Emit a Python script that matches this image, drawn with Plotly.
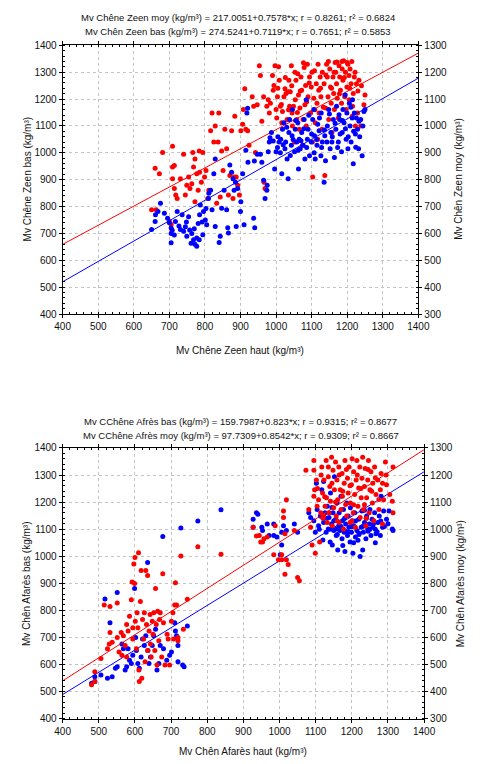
import plotly.graph_objects as go

# ---------------- DATA ----------------
# Top chart: Chêne Zeen
zeen_blue_x = [650,660,661,668,675,686,695,700,705,705,708,714,705,717,722,727,731,736,740,745,748,749,754,757,761,763,768,770,772,777,777,781,784,785,787,792,794,796,801,803,805,810,811,816,825,829,820,829,840,843,847,854,861,864,866,870,875,879,882,886,888,892,900,901,906,910,915,918,920,921,937,940,939,947,956,960,965,969,974,975,978,981,983,987,992,996,1000,1004,1009,1013,1016,1018,1022,1025,1027,1031,1034,1036,1038,1043,1045,1046,1052,1054,1058,1061,1063,1065,1068,1072,1076,1079,1081,1085,1088,1090,1094,1099,1103,1106,1108,1110,1115,1117,1121,1126,1127,1130,1135,1137,1139,1144,1148,1152,1154,1157,1161,1164,1168,1170,1175,1177,1179,1184,1186,1188,1191,1194,1197,1199,1202,1206,1208,1211,1214,1215,1217,1220,1223,1224,1229,1232,1233,1238,1242,1247,1250,
               1005,1012,1020,1030,1040,1048,1055,1062,1070,1078,1086,1092,1100,1107,1114,1122,1128,1136,1143,1150,1158,1166,1173,1180,1187,1195,1203,1210,1218,1226,1235,1244]
zeen_blue_y = [715,745,770,782,812,775,757,740,720,700,712,694,665,745,782,728,715,770,708,725,743,690,762,713,664,700,677,718,660,683,652,737,677,770,806,743,695,782,750,793,732,830,850,861,922,977,788,726,666,690,794,861,788,721,702,955,928,904,861,891,726,867,782,818,922,732,1010,1148,1166,965,757,721,970,995,995,965,898,830,861,879,1004,1040,1056,1076,1044,940,1004,1020,1040,1051,922,1088,1112,1015,1040,977,904,1076,1124,1028,1064,1161,1004,1088,1040,1112,940,1051,1015,1076,1028,1124,977,1198,1051,1088,989,1040,1124,1161,1064,977,1028,1106,1082,989,1148,1040,891,1064,971,1100,1161,1015,1076,1040,1124,983,1088,1173,1040,1142,1124,1004,1076,1161,1112,1215,1051,1148,1015,1185,1100,1040,1130,1198,959,1148,1070,1021,1088,1015,1118,1124,989,1154,1161,
               1060,1000,1030,1095,990,1050,1120,1010,1045,1090,1020,1140,1070,1000,1050,1130,1020,1085,1040,1145,1060,1110,1020,1070,1120,1090,1060,1170,1080,1130,1060,1100]
zeen_red_x = [650,660,663,672,681,709,709,714,709,714,718,700,705,722,731,740,745,749,754,758,763,766,768,772,772,777,781,784,785,790,794,799,803,808,811,816,820,825,829,833,837,839,843,847,851,856,861,866,870,875,879,882,884,888,892,897,901,906,908,912,915,920,924,933,937,942,947,953,956,960,965,966,969,974,978,981,984,990,992,994,997,1000,1002,1004,1007,1009,1012,1016,1018,1022,1025,1028,1031,1034,1036,1038,1040,1043,1045,1046,1049,1052,1054,1056,1058,1061,1063,1065,1067,1070,1072,1074,1076,1079,1081,1083,1085,1088,1090,1094,1097,1099,1102,1103,1106,1108,1110,1113,1115,1117,1120,1121,1124,1126,1129,1130,1135,1137,1139,1142,1144,1146,1148,1151,1153,1155,1157,1160,1162,1164,1166,1168,1170,1172,1175,1177,1179,1181,1184,1186,1188,1190,1193,1195,1197,1199,1202,1205,1206,1208,1211,1214,1215,1217,1220,1223,1226,1229,1233,1238,1247,1250,
              1005,1015,1026,1035,1044,1053,1060,1068,1077,1086,1093,1101,1109,1118,1125,1133,1140,1147,1156,1163,1171,1178,1185,1192,1200,1207,1213,1222,1230,1240]
zeen_red_y = [688,843,688,822,901,925,847,853,804,767,743,645,633,730,804,895,743,779,810,767,785,901,847,877,718,822,761,907,828,791,901,810,834,730,761,982,1048,940,1000,712,940,1048,736,907,834,988,915,743,816,982,730,810,1036,810,779,743,982,1006,1061,1139,988,982,928,1109,1073,901,1079,1224,1188,1018,1109,791,767,1073,1098,1048,1085,1188,1133,1151,1224,1061,1030,1109,1220,1170,1073,1012,1054,1109,1139,1121,1024,1127,1170,1073,1127,1224,1048,1000,1073,940,1098,1170,1024,1194,1115,988,1067,1182,1133,928,1024,1218,1079,1151,1000,1230,1109,1182,1048,1145,940,810,1103,1206,1012,1157,1085,951,1133,1048,1182,1109,988,1200,1157,816,1067,1230,1182,1109,1024,1212,1145,1085,976,1182,1121,1061,1236,1200,1157,1103,1030,1224,1182,1133,1085,1212,1170,1243,1109,1200,1061,1145,1230,1188,1098,1212,1157,1036,1073,1121,1182,1000,1157,1048,1170,1000,1079,1115,
              1140,1080,1180,1060,1150,1200,1050,1130,1235,1090,1160,1200,1060,1230,1140,1070,1190,1240,1140,1200,1238,1120,1240,1180,1236,1140,1240,1200,1130,1150]

# Bottom chart: Chêne Afarès
afa_blue_x = [480,489,489,506,524,537,546,551,517,531,551,564,568,573,577,581,585,590,594,599,602,604,608,612,617,621,626,630,635,636,639,643,648,652,657,661,666,670,677,679,688,696,701,710,712,715,719,719,727,732,736,745,774,838,
              927,936,940,927,951,953,966,971,984,984,993,1006,1011,1006,1002,1019,1041,1050,1081,1086,1095,1099,1102,1104,1108,1113,1117,1122,1122,1126,1129,1132,1135,1137,1140,1141,1144,1146,1148,1150,1152,1155,1157,1159,1161,1164,1165,1167,1170,1173,1174,1177,1179,1181,1183,1186,1188,1190,1192,1195,1196,1199,1201,1203,1205,1208,1210,1214,1217,1219,1223,1226,1228,1230,1232,1235,1239,1241,1244,1248,1250,1253,1256,1258,1263,1267,1272,1276,1279,1281,1285,1288,1296,1303,1312,1314,1157,1180,1200,1220,1245,1265,
              1110,1120,1130,1140,1150,1160,1170,1180,1190,1200,1210,1220,1230,1240,1250,1260,1270,1280,1290,1300,1145,1175,1205,1235,1265]
afa_blue_y = [531,555,537,561,549,555,586,592,842,754,866,676,658,580,592,658,616,604,634,881,700,652,604,586,628,694,670,706,977,652,604,628,670,706,730,580,604,670,1073,658,616,634,646,754,724,706,670,610,1104,598,592,742,1130,1172,
              1137,1161,1155,1107,1107,1095,1119,1077,1119,1077,1071,1089,1113,1041,1005,1095,1119,1089,1161,1143,1131,1089,1270,1173,1113,1149,1246,1276,1125,1161,1089,1185,1101,1143,1053,1234,1119,1041,1161,1095,1294,1137,1077,1197,1023,1113,1161,1095,1222,1065,1131,1173,1089,1017,1119,1197,1077,1149,1107,1053,1179,1089,1131,1011,1113,1161,1071,1095,1059,1137,999,1107,1167,1023,1089,1125,1065,1149,1101,1119,1173,1077,1137,1107,1161,1083,1125,1149,1077,1222,1107,1167,1137,1167,1101,1095,1101,1095,1110,1085,1092,1100,
              1100,1060,1140,1100,1130,1080,1110,1140,1090,1110,1130,1080,1110,1140,1100,1120,1090,1130,1110,1120,1180,1040,1050,1170,1050]
afa_red_x = [480,489,489,506,515,524,529,531,531,537,551,551,556,562,564,568,573,577,577,581,585,590,592,594,594,597,599,600,601,604,606,608,610,611,612,615,617,619,621,624,626,628,630,632,635,635,639,642,643,645,648,650,652,655,657,659,661,663,666,668,670,674,677,679,683,689,692,696,701,705,707,710,712,715,719,719,727,734,745,774,838,
             927,936,944,948,953,957,966,988,984,997,1006,1011,1011,1015,1015,1019,1019,1024,1006,1041,1050,1055,1073,1081,1086,1090,1095,1095,1095,1097,1099,1102,1104,1108,1111,1114,1117,1119,1122,1123,1126,1129,1130,1132,1135,1137,1139,1141,1144,1146,1148,1150,1152,1155,1157,1159,1161,1164,1165,1168,1170,1173,1174,1177,1179,1181,1183,1186,1188,1190,1192,1195,1196,1199,1201,1204,1205,1208,1210,1212,1214,1217,1219,1222,1223,1226,1228,1230,1232,1235,1237,1239,1241,1244,1246,1248,1250,1253,1257,1258,1261,1263,1267,1272,1275,1279,1281,1285,1288,1293,1296,1305,1312,1314,1314,
             1105,1115,1125,1135,1145,1155,1165,1175,1185,1195,1205,1215,1225,1235,1245,1255,1265,1275,1285,1295,1120,1160,1200,1240]
afa_red_y = [425,473,437,522,720,558,576,714,618,582,727,600,546,618,534,606,570,648,528,624,678,739,805,636,594,871,799,895,660,558,691,636,913,480,437,733,847,449,666,594,691,510,847,648,829,552,624,685,576,528,660,612,691,552,781,648,498,697,588,666,691,528,835,654,498,612,594,498,660,691,594,720,802,720,600,588,901,630,741,935,907,
             1007,975,977,953,953,965,971,1013,905,887,887,1067,1043,983,833,1109,887,869,905,995,821,809,1218,1073,1007,941,1254,1218,1122,1146,911,1182,1085,1109,953,1061,1230,1134,1049,1182,1085,1254,1116,1025,1194,1061,1158,1103,1266,1013,1218,1079,1146,1248,1049,1182,1109,1230,1025,1146,1073,1206,1122,1001,1170,1254,1091,1049,1188,1134,1230,1025,1097,1164,1260,1061,1212,1128,1007,1182,1254,1085,1152,1230,1043,1116,1188,1266,1073,1158,1224,1013,1116,1182,1254,1061,1146,1212,1097,1170,1031,1230,1128,1182,1073,1146,1206,1019,1109,1248,1164,1128,1103,1061,1230,
             1150,1200,1120,1230,1170,1100,1200,1140,1220,1160,1090,1200,1150,1090,1220,1140,1190,1110,1170,1200,1040,1030,1030,1040]

# Regression coefficients (intercept, slope) read from the titles
zeen_blue_fit = [217.0051, 0.7578]
zeen_red_fit = [274.5241, 0.7119]
afa_blue_fit = [159.7987, 0.823]
afa_red_fit = [97.7309, 0.8542]
x_range = [400, 1400]

titles_top = ["Mv Chêne Zeen moy (kg/m³) = 217.0051+0.7578*x; r = 0.8261; r² = 0.6824",
              "Mv Chên Zeen bas (kg/m³) = 274.5241+0.7119*x; r = 0.7651; r² = 0.5853"]
titles_bot = ["Mv CChêne Afrès bas (kg/m³) = 159.7987+0.823*x; r = 0.9315; r² = 0.8677",
              "Mv CChêne Afrès moy (kg/m³) = 97.7309+0.8542*x; r = 0.9309; r² = 0.8667"]

BLUE = "#0000ff"
RED = "#ff0000"
FONT = "Liberation Sans, Arial, sans-serif"

def fit_line(c):
    return [c[0] + c[1] * x for x in x_range]

fig = go.Figure()
# Top chart: red on base axis (y, right), blue on overlay (y2, left)
fig.add_trace(go.Scatter(x=zeen_red_x, y=zeen_red_y, mode="markers", xaxis="x", yaxis="y",
                         marker=dict(color=RED, size=5), showlegend=False))
fig.add_trace(go.Scatter(x=x_range, y=fit_line(zeen_red_fit), mode="lines", xaxis="x", yaxis="y",
                         line=dict(color=RED, width=1), showlegend=False))
fig.add_trace(go.Scatter(x=zeen_blue_x, y=zeen_blue_y, mode="markers", xaxis="x", yaxis="y2",
                         marker=dict(color=BLUE, size=5), showlegend=False))
fig.add_trace(go.Scatter(x=x_range, y=fit_line(zeen_blue_fit), mode="lines", xaxis="x", yaxis="y2",
                         line=dict(color=BLUE, width=1), showlegend=False))
# Bottom chart: blue on base axis (y3, left), red on overlay (y4, right)
fig.add_trace(go.Scatter(x=afa_blue_x, y=afa_blue_y, mode="markers", xaxis="x2", yaxis="y3",
                         marker=dict(color=BLUE, size=5), showlegend=False))
fig.add_trace(go.Scatter(x=x_range, y=fit_line(afa_blue_fit), mode="lines", xaxis="x2", yaxis="y3",
                         line=dict(color=BLUE, width=1), showlegend=False))
fig.add_trace(go.Scatter(x=afa_red_x, y=afa_red_y, mode="markers", xaxis="x2", yaxis="y4",
                         marker=dict(color=RED, size=5), showlegend=False))
fig.add_trace(go.Scatter(x=x_range, y=fit_line(afa_red_fit), mode="lines", xaxis="x2", yaxis="y4",
                         line=dict(color=RED, width=1), showlegend=False))

W, H = 485, 764
def px(xp): return xp / W
def py(yp): return 1 - yp / H

tickfont = dict(family=FONT, size=10, color="#111111")
def axis(**kw):
    d = dict(showline=True, linecolor="black", linewidth=1, ticks="outside", ticklen=3,
             tickcolor="black", tickfont=tickfont, zeroline=False, dtick=100,
             minor=dict(ticks="inside", ticklen=2, dtick=20, tickcolor="black", showgrid=False),
             showgrid=True, gridcolor="#c4c4c4", griddash="dot", gridwidth=1, fixedrange=True)
    d.update(kw)
    return d

top_x = [px(57), px(428)]
top_y = [py(313), py(40)]
bot_x = [px(57), px(434)]
bot_y = [py(724), py(449)]

fig.update_layout(
    width=W, height=H, margin=dict(l=0, r=0, t=0, b=0),
    paper_bgcolor="white", plot_bgcolor="white",
    font=dict(family=FONT, size=10, color="#111111"),
    xaxis=axis(domain=top_x, range=[400, 1400], anchor="y", mirror="ticks"),
    yaxis=axis(domain=top_y, range=[300, 1300], anchor="x", side="right", showgrid=False),
    yaxis2=axis(range=[400, 1400], overlaying="y", anchor="x", side="left"),
    xaxis2=axis(domain=bot_x, range=[400, 1400], anchor="y3", mirror="ticks"),
    yaxis3=axis(domain=bot_y, range=[400, 1400], anchor="x2", side="left"),
    yaxis4=axis(range=[300, 1300], overlaying="y3", anchor="x2", side="right", showgrid=False),
)

ann = []
def text(t, x, y, angle=0, size=10):
    ann.append(dict(text=t, x=x, y=y, xref="paper", yref="paper", showarrow=False,
                    textangle=angle, font=dict(family=FONT, size=size, color="#111111"),
                    xanchor="center", yanchor="middle"))

text(titles_top[0], px(240), py(12), size=9.5)
text(titles_top[1], px(240), py(26), size=9.5)
text(titles_bot[0], px(243), py(422), size=9.5)
text(titles_bot[1], px(243), py(436), size=9.5)
text("Mv Chêne Zeen haut (kg/m³)", px(242), py(350))
text("Mv Chên Afarès haut (kg/m³)", px(245), py(757))
text("Mv Chêne Zeen bas (kg/m³)", px(20), py(176), angle=-90)
text("Mv Chên Zeen moy (kg/m³)", px(470), py(176), angle=-90)
text("Mv Chên Afarès bas (kg/m³)", px(20), py(587), angle=-90)
text("Mv Chên Afarès moy (kg/m³)", px(472), py(587), angle=-90)
fig.update_layout(annotations=ann)

fig.write_html("out.html")
